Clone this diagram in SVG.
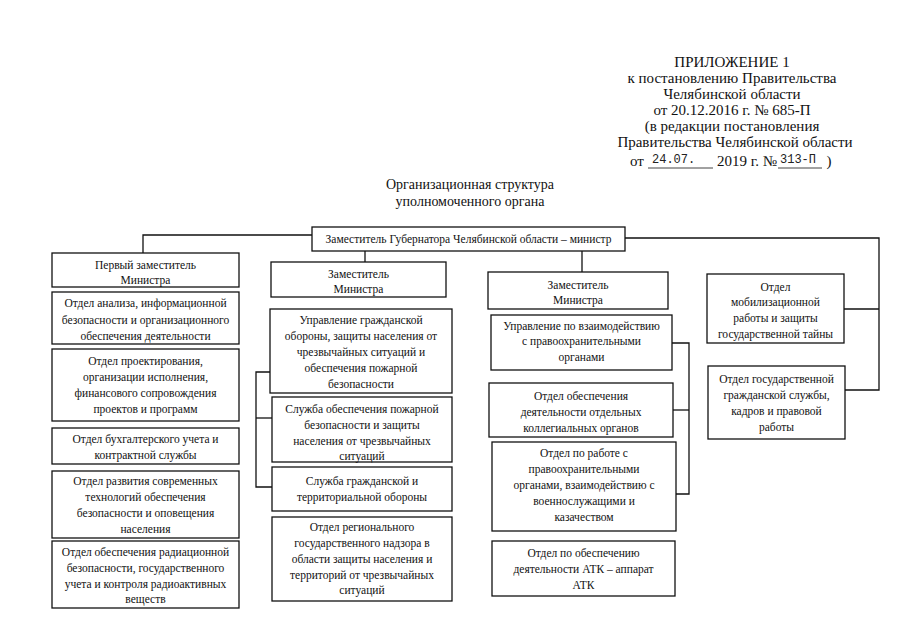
<svg xmlns="http://www.w3.org/2000/svg" width="905" height="640" viewBox="0 0 905 640">
<style>
.b{fill:#fff;stroke:#111;stroke-width:1.3}
.c{fill:none;stroke:#111;stroke-width:1.3}
.t{font-family:"Liberation Serif","Times New Roman",serif;font-size:11.5px;fill:#111;text-anchor:middle}
.h{font-family:"Liberation Serif","Times New Roman",serif;font-size:15px;fill:#111;text-anchor:middle}
.ti{font-family:"Liberation Serif","Times New Roman",serif;font-size:14px;fill:#111;text-anchor:middle}
.m{font-family:"Liberation Mono","Courier New",monospace;font-size:12px;fill:#222}
</style>
<rect width="905" height="640" fill="#fff"/>
<g id="header">
<text class="h" x="732" y="67">ПРИЛОЖЕНИЕ 1</text>
<text class="h" x="732" y="83">к постановлению Правительства</text>
<text class="h" x="732" y="99">Челябинской области</text>
<text class="h" x="732" y="115">от 20.12.2016 г. № 685-П</text>
<text class="h" x="732" y="131">(в редакции постановления</text>
<text class="h" x="735" y="147">Правительства Челябинской области</text>
<text class="h" x="637" y="166">от</text>
<text class="m" x="652" y="163">24.07.</text>
<line x1="648" y1="168" x2="713" y2="168" stroke="#444" stroke-width="1"/>
<text class="h" x="747" y="166">2019 г. №</text>
<text class="m" x="780" y="163">313-П</text>
<line x1="778" y1="168" x2="822" y2="168" stroke="#444" stroke-width="1"/>
<text class="h" x="829" y="166">)</text>
</g>
<g id="title">
<text class="ti" x="470" y="189">Организационная структура</text>
<text class="ti" x="470" y="206">уполномоченного органа</text>
</g>
<g id="connectors">
<polyline class="c" points="312,235 143,235 143,253"/>
<line class="c" x1="365" y1="251" x2="365" y2="262"/>
<line class="c" x1="582" y1="251" x2="582" y2="272"/>
<polyline class="c" points="625,238 879,238 879,390 845,390"/>
<line class="c" x1="844" y1="309" x2="879" y2="309"/>
<polyline class="c" points="270,372 256,372 256,487 272,487"/>
<line class="c" x1="256" y1="418" x2="272" y2="418"/>
<polyline class="c" points="672,343 689,343 689,494 676,494"/>
<line class="c" x1="673" y1="410" x2="689" y2="410"/>
</g>
<g id="n0"><rect class="b" x="312" y="227" width="313" height="24"/><text class="t" x="468.5" y="243">Заместитель Губернатора Челябинской области – министр</text></g>
<g id="n1"><rect class="b" x="52" y="253" width="187" height="34"/><text class="t" x="145.5" y="269">Первый заместитель</text><text class="t" x="145.5" y="284">Министра</text></g>
<g id="n2"><rect class="b" x="52" y="292" width="187" height="52"/><text class="t" x="145.5" y="307">Отдел анализа, информационной</text><text class="t" x="145.5" y="324">безопасности и организационного</text><text class="t" x="145.5" y="340">обеспечения деятельности</text></g>
<g id="n3"><rect class="b" x="52" y="349" width="187" height="72"/><text class="t" x="145.5" y="365">Отдел проектирования,</text><text class="t" x="145.5" y="381">организации исполнения,</text><text class="t" x="145.5" y="397">финансового сопровождения</text><text class="t" x="145.5" y="413">проектов и программ</text></g>
<g id="n4"><rect class="b" x="52" y="428" width="187" height="36"/><text class="t" x="145.5" y="443">Отдел бухгалтерского учета и</text><text class="t" x="145.5" y="459">контрактной службы</text></g>
<g id="n5"><rect class="b" x="52" y="471" width="187" height="67"/><text class="t" x="145.5" y="485">Отдел развития современных</text><text class="t" x="145.5" y="501">технологий обеспечения</text><text class="t" x="145.5" y="517">безопасности и оповещения</text><text class="t" x="145.5" y="533">населения</text></g>
<g id="n6"><rect class="b" x="52" y="541" width="187" height="67"/><text class="t" x="145.5" y="556">Отдел обеспечения радиационной</text><text class="t" x="145.5" y="572">безопасности, государственного</text><text class="t" x="145.5" y="588">учета и контроля радиоактивных</text><text class="t" x="145.5" y="603">веществ</text></g>
<g id="n7"><rect class="b" x="271" y="262" width="175" height="35"/><text class="t" x="358.5" y="278">Заместитель</text><text class="t" x="358.5" y="293">Министра</text></g>
<g id="n8"><rect class="b" x="270" y="309" width="182" height="84"/><text class="t" x="361" y="324">Управление гражданской</text><text class="t" x="361" y="340">обороны, защиты населения от</text><text class="t" x="361" y="356">чрезвычайных ситуаций и</text><text class="t" x="361" y="372">обеспечения пожарной</text><text class="t" x="361" y="388">безопасности</text></g>
<g id="n9"><rect class="b" x="272" y="397" width="180" height="65"/><text class="t" x="362" y="413">Служба обеспечения пожарной</text><text class="t" x="362" y="429">безопасности и защиты</text><text class="t" x="362" y="445">населения от чрезвычайных</text><text class="t" x="362" y="460">ситуаций</text></g>
<g id="n10"><rect class="b" x="272" y="467" width="180" height="44"/><text class="t" x="362" y="485">Служба гражданской и</text><text class="t" x="362" y="501">территориальной обороны</text></g>
<g id="n11"><rect class="b" x="272" y="517" width="180" height="84"/><text class="t" x="362" y="531">Отдел регионального</text><text class="t" x="362" y="547">государственного надзора в</text><text class="t" x="362" y="563">области защиты населения и</text><text class="t" x="362" y="579">территорий от чрезвычайных</text><text class="t" x="362" y="594">ситуаций</text></g>
<g id="n12"><rect class="b" x="488" y="272" width="180" height="37"/><text class="t" x="578" y="289">Заместитель</text><text class="t" x="578" y="304">Министра</text></g>
<g id="n13"><rect class="b" x="491" y="315" width="181" height="55"/><text class="t" x="581.5" y="330">Управление по взаимодействию</text><text class="t" x="581.5" y="345">с правоохранительными</text><text class="t" x="581.5" y="361">органами</text></g>
<g id="n14"><rect class="b" x="489" y="383" width="184" height="54"/><text class="t" x="581" y="400">Отдел обеспечения</text><text class="t" x="581" y="416">деятельности отдельных</text><text class="t" x="581" y="432">коллегиальных органов</text></g>
<g id="n15"><rect class="b" x="492" y="442" width="184" height="89"/><text class="t" x="584" y="457">Отдел по работе с</text><text class="t" x="584" y="473">правоохранительными</text><text class="t" x="584" y="489">органами, взаимодействию с</text><text class="t" x="584" y="505">военнослужащими и</text><text class="t" x="584" y="521">казачеством</text></g>
<g id="n16"><rect class="b" x="492" y="541" width="183" height="55"/><text class="t" x="583.5" y="557">Отдел по обеспечению</text><text class="t" x="583.5" y="573">деятельности АТК – аппарат</text><text class="t" x="583.5" y="589">АТК</text></g>
<g id="n17"><rect class="b" x="707" y="274" width="137" height="69"/><text class="t" x="775.5" y="291">Отдел</text><text class="t" x="775.5" y="306">мобилизационной</text><text class="t" x="775.5" y="322">работы и защиты</text><text class="t" x="775.5" y="338">государственной тайны</text></g>
<g id="n18"><rect class="b" x="708" y="366" width="137" height="73"/><text class="t" x="776.5" y="383">Отдел государственной</text><text class="t" x="776.5" y="399">гражданской службы,</text><text class="t" x="776.5" y="415">кадров и правовой</text><text class="t" x="776.5" y="431">работы</text></g>
</svg>
